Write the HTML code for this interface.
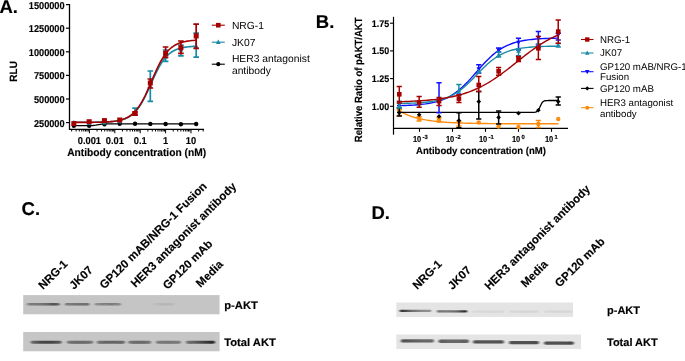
<!DOCTYPE html><html><head><meta charset="utf-8"><style>html,body{margin:0;padding:0;background:#fff;overflow:hidden}svg{display:block;filter:blur(0.35px)}text{font-family:"Liberation Sans",sans-serif;text-rendering:geometricPrecision}text[font-weight=bold]{stroke:#000;stroke-width:0.15px}</style></head><body><svg width="685" height="361" viewBox="0 0 685 361"><defs><linearGradient id="gb0" x1="0" x2="1" y1="0" y2="0"><stop offset="0.000" stop-color="#101010" stop-opacity="0.3"/><stop offset="0.200" stop-color="#101010" stop-opacity="0.42"/><stop offset="0.400" stop-color="#101010" stop-opacity="0.45"/><stop offset="0.600" stop-color="#101010" stop-opacity="0.5"/><stop offset="0.800" stop-color="#101010" stop-opacity="0.65"/><stop offset="1.000" stop-color="#101010" stop-opacity="0.55"/></linearGradient><linearGradient id="gb1" x1="0" x2="1" y1="0" y2="0"><stop offset="0.000" stop-color="#101010" stop-opacity="0.38"/><stop offset="0.333" stop-color="#101010" stop-opacity="0.45"/><stop offset="0.667" stop-color="#101010" stop-opacity="0.48"/><stop offset="1.000" stop-color="#101010" stop-opacity="0.5"/></linearGradient><linearGradient id="gb2" x1="0" x2="1" y1="0" y2="0"><stop offset="0.000" stop-color="#101010" stop-opacity="0.25"/><stop offset="0.333" stop-color="#101010" stop-opacity="0.35"/><stop offset="0.667" stop-color="#101010" stop-opacity="0.38"/><stop offset="1.000" stop-color="#101010" stop-opacity="0.3"/></linearGradient><linearGradient id="gb3" x1="0" x2="1" y1="0" y2="0"><stop offset="0.000" stop-color="#101010" stop-opacity="0.03"/><stop offset="0.500" stop-color="#101010" stop-opacity="0.08"/><stop offset="1.000" stop-color="#101010" stop-opacity="0.06"/></linearGradient><linearGradient id="gb4" x1="0" x2="1" y1="0" y2="0"><stop offset="0.000" stop-color="#101010" stop-opacity="0.5"/><stop offset="0.333" stop-color="#101010" stop-opacity="0.7"/><stop offset="0.667" stop-color="#101010" stop-opacity="0.72"/><stop offset="1.000" stop-color="#101010" stop-opacity="0.6"/></linearGradient><linearGradient id="gb5" x1="0" x2="1" y1="0" y2="0"><stop offset="0.000" stop-color="#101010" stop-opacity="0.45"/><stop offset="0.333" stop-color="#101010" stop-opacity="0.52"/><stop offset="0.667" stop-color="#101010" stop-opacity="0.52"/><stop offset="1.000" stop-color="#101010" stop-opacity="0.45"/></linearGradient><linearGradient id="gb6" x1="0" x2="1" y1="0" y2="0"><stop offset="0.000" stop-color="#101010" stop-opacity="0.45"/><stop offset="0.333" stop-color="#101010" stop-opacity="0.55"/><stop offset="0.667" stop-color="#101010" stop-opacity="0.55"/><stop offset="1.000" stop-color="#101010" stop-opacity="0.5"/></linearGradient><linearGradient id="gb7" x1="0" x2="1" y1="0" y2="0"><stop offset="0.000" stop-color="#101010" stop-opacity="0.45"/><stop offset="0.333" stop-color="#101010" stop-opacity="0.52"/><stop offset="0.667" stop-color="#101010" stop-opacity="0.52"/><stop offset="1.000" stop-color="#101010" stop-opacity="0.45"/></linearGradient><linearGradient id="gb8" x1="0" x2="1" y1="0" y2="0"><stop offset="0.000" stop-color="#101010" stop-opacity="0.35"/><stop offset="0.333" stop-color="#101010" stop-opacity="0.45"/><stop offset="0.667" stop-color="#101010" stop-opacity="0.45"/><stop offset="1.000" stop-color="#101010" stop-opacity="0.4"/></linearGradient><linearGradient id="gb9" x1="0" x2="1" y1="0" y2="0"><stop offset="0.000" stop-color="#101010" stop-opacity="0.45"/><stop offset="0.333" stop-color="#101010" stop-opacity="0.6"/><stop offset="0.667" stop-color="#101010" stop-opacity="0.75"/><stop offset="1.000" stop-color="#101010" stop-opacity="0.9"/></linearGradient><linearGradient id="gb10" x1="0" x2="1" y1="0" y2="0"><stop offset="0.000" stop-color="#101010" stop-opacity="0.9"/><stop offset="0.333" stop-color="#101010" stop-opacity="0.6"/><stop offset="0.667" stop-color="#101010" stop-opacity="0.45"/><stop offset="1.000" stop-color="#101010" stop-opacity="0.4"/></linearGradient><linearGradient id="gb11" x1="0" x2="1" y1="0" y2="0"><stop offset="0.000" stop-color="#101010" stop-opacity="0.55"/><stop offset="0.333" stop-color="#101010" stop-opacity="0.5"/><stop offset="0.667" stop-color="#101010" stop-opacity="0.6"/><stop offset="1.000" stop-color="#101010" stop-opacity="0.95"/></linearGradient><linearGradient id="gb12" x1="0" x2="1" y1="0" y2="0"><stop offset="0.000" stop-color="#101010" stop-opacity="0.04"/><stop offset="0.500" stop-color="#101010" stop-opacity="0.06"/><stop offset="1.000" stop-color="#101010" stop-opacity="0.06"/></linearGradient><linearGradient id="gb13" x1="0" x2="1" y1="0" y2="0"><stop offset="0.000" stop-color="#101010" stop-opacity="0.05"/><stop offset="0.500" stop-color="#101010" stop-opacity="0.07"/><stop offset="1.000" stop-color="#101010" stop-opacity="0.06"/></linearGradient><linearGradient id="gb14" x1="0" x2="1" y1="0" y2="0"><stop offset="0.000" stop-color="#101010" stop-opacity="0.05"/><stop offset="0.500" stop-color="#101010" stop-opacity="0.07"/><stop offset="1.000" stop-color="#101010" stop-opacity="0.05"/></linearGradient><linearGradient id="gb15" x1="0" x2="1" y1="0" y2="0"><stop offset="0.000" stop-color="#101010" stop-opacity="0.7"/><stop offset="0.333" stop-color="#101010" stop-opacity="0.65"/><stop offset="0.667" stop-color="#101010" stop-opacity="0.6"/><stop offset="1.000" stop-color="#101010" stop-opacity="0.6"/></linearGradient><linearGradient id="gb16" x1="0" x2="1" y1="0" y2="0"><stop offset="0.000" stop-color="#101010" stop-opacity="0.65"/><stop offset="0.333" stop-color="#101010" stop-opacity="0.6"/><stop offset="0.667" stop-color="#101010" stop-opacity="0.6"/><stop offset="1.000" stop-color="#101010" stop-opacity="0.65"/></linearGradient><linearGradient id="gb17" x1="0" x2="1" y1="0" y2="0"><stop offset="0.000" stop-color="#101010" stop-opacity="0.7"/><stop offset="0.333" stop-color="#101010" stop-opacity="0.68"/><stop offset="0.667" stop-color="#101010" stop-opacity="0.68"/><stop offset="1.000" stop-color="#101010" stop-opacity="0.7"/></linearGradient><linearGradient id="gb18" x1="0" x2="1" y1="0" y2="0"><stop offset="0.000" stop-color="#101010" stop-opacity="0.7"/><stop offset="0.333" stop-color="#101010" stop-opacity="0.7"/><stop offset="0.667" stop-color="#101010" stop-opacity="0.7"/><stop offset="1.000" stop-color="#101010" stop-opacity="0.72"/></linearGradient><linearGradient id="gb19" x1="0" x2="1" y1="0" y2="0"><stop offset="0.000" stop-color="#101010" stop-opacity="0.7"/><stop offset="0.333" stop-color="#101010" stop-opacity="0.7"/><stop offset="0.667" stop-color="#101010" stop-opacity="0.7"/><stop offset="1.000" stop-color="#101010" stop-opacity="0.75"/></linearGradient><filter id="bl" x="-10%" y="-100%" width="120%" height="300%"><feGaussianBlur stdDeviation="0.9 0.7"/></filter><filter id="bs" x="-5%" y="-20%" width="110%" height="140%"><feGaussianBlur stdDeviation="0.4"/></filter></defs><rect width="685" height="361" fill="#fff"/><g>
<path d="M69.5,4V129.3H204" stroke="#000" stroke-width="1.3" fill="none"/>
<path d="M66,4.60H69.5" stroke="#000" stroke-width="1.2"/>
<text transform="translate(64.60,8.50) scale(0.92,1)" font-size="10" font-weight="bold" text-anchor="end" >1500000</text>
<path d="M66,28.20H69.5" stroke="#000" stroke-width="1.2"/>
<text transform="translate(64.60,32.10) scale(0.92,1)" font-size="10" font-weight="bold" text-anchor="end" >1250000</text>
<path d="M66,51.80H69.5" stroke="#000" stroke-width="1.2"/>
<text transform="translate(64.60,55.70) scale(0.92,1)" font-size="10" font-weight="bold" text-anchor="end" >1000000</text>
<path d="M66,75.40H69.5" stroke="#000" stroke-width="1.2"/>
<text transform="translate(64.60,79.30) scale(0.92,1)" font-size="10" font-weight="bold" text-anchor="end" >750000</text>
<path d="M66,99.00H69.5" stroke="#000" stroke-width="1.2"/>
<text transform="translate(64.60,102.90) scale(0.92,1)" font-size="10" font-weight="bold" text-anchor="end" >500000</text>
<path d="M66,122.60H69.5" stroke="#000" stroke-width="1.2"/>
<text transform="translate(64.60,126.50) scale(0.92,1)" font-size="10" font-weight="bold" text-anchor="end" >250000</text>
<path d="M71.65,129.3V131.50" stroke="#000" stroke-width="1"/>
<path d="M76.12,129.3V131.50" stroke="#000" stroke-width="1"/>
<path d="M79.29,129.3V131.50" stroke="#000" stroke-width="1"/>
<path d="M81.75,129.3V131.50" stroke="#000" stroke-width="1"/>
<path d="M83.77,129.3V131.50" stroke="#000" stroke-width="1"/>
<path d="M85.47,129.3V131.50" stroke="#000" stroke-width="1"/>
<path d="M86.94,129.3V131.50" stroke="#000" stroke-width="1"/>
<path d="M88.24,129.3V131.50" stroke="#000" stroke-width="1"/>
<path d="M89.40,129.3V133.30" stroke="#000" stroke-width="1"/>
<path d="M97.05,129.3V131.50" stroke="#000" stroke-width="1"/>
<path d="M101.52,129.3V131.50" stroke="#000" stroke-width="1"/>
<path d="M104.69,129.3V131.50" stroke="#000" stroke-width="1"/>
<path d="M107.15,129.3V131.50" stroke="#000" stroke-width="1"/>
<path d="M109.17,129.3V131.50" stroke="#000" stroke-width="1"/>
<path d="M110.87,129.3V131.50" stroke="#000" stroke-width="1"/>
<path d="M112.34,129.3V131.50" stroke="#000" stroke-width="1"/>
<path d="M113.64,129.3V131.50" stroke="#000" stroke-width="1"/>
<path d="M114.80,129.3V133.30" stroke="#000" stroke-width="1"/>
<path d="M122.45,129.3V131.50" stroke="#000" stroke-width="1"/>
<path d="M126.92,129.3V131.50" stroke="#000" stroke-width="1"/>
<path d="M130.09,129.3V131.50" stroke="#000" stroke-width="1"/>
<path d="M132.55,129.3V131.50" stroke="#000" stroke-width="1"/>
<path d="M134.57,129.3V131.50" stroke="#000" stroke-width="1"/>
<path d="M136.27,129.3V131.50" stroke="#000" stroke-width="1"/>
<path d="M137.74,129.3V131.50" stroke="#000" stroke-width="1"/>
<path d="M139.04,129.3V131.50" stroke="#000" stroke-width="1"/>
<path d="M140.20,129.3V133.30" stroke="#000" stroke-width="1"/>
<path d="M147.85,129.3V131.50" stroke="#000" stroke-width="1"/>
<path d="M152.32,129.3V131.50" stroke="#000" stroke-width="1"/>
<path d="M155.49,129.3V131.50" stroke="#000" stroke-width="1"/>
<path d="M157.95,129.3V131.50" stroke="#000" stroke-width="1"/>
<path d="M159.97,129.3V131.50" stroke="#000" stroke-width="1"/>
<path d="M161.67,129.3V131.50" stroke="#000" stroke-width="1"/>
<path d="M163.14,129.3V131.50" stroke="#000" stroke-width="1"/>
<path d="M164.44,129.3V131.50" stroke="#000" stroke-width="1"/>
<path d="M165.60,129.3V133.30" stroke="#000" stroke-width="1"/>
<path d="M173.25,129.3V131.50" stroke="#000" stroke-width="1"/>
<path d="M177.72,129.3V131.50" stroke="#000" stroke-width="1"/>
<path d="M180.89,129.3V131.50" stroke="#000" stroke-width="1"/>
<path d="M183.35,129.3V131.50" stroke="#000" stroke-width="1"/>
<path d="M185.37,129.3V131.50" stroke="#000" stroke-width="1"/>
<path d="M187.07,129.3V131.50" stroke="#000" stroke-width="1"/>
<path d="M188.54,129.3V131.50" stroke="#000" stroke-width="1"/>
<path d="M189.84,129.3V131.50" stroke="#000" stroke-width="1"/>
<path d="M191.00,129.3V133.30" stroke="#000" stroke-width="1"/>
<path d="M198.65,129.3V131.50" stroke="#000" stroke-width="1"/>
<path d="M203.12,129.3V131.50" stroke="#000" stroke-width="1"/>
<text transform="translate(89.40,143.60) scale(0.93,1)" font-size="10" font-weight="bold" text-anchor="middle" >0.001</text>
<text transform="translate(114.80,143.60) scale(0.93,1)" font-size="10" font-weight="bold" text-anchor="middle" >0.01</text>
<text transform="translate(140.20,143.60) scale(0.93,1)" font-size="10" font-weight="bold" text-anchor="middle" >0.1</text>
<text transform="translate(165.60,143.60) scale(0.93,1)" font-size="10" font-weight="bold" text-anchor="middle" >1</text>
<text transform="translate(191.00,143.60) scale(0.93,1)" font-size="10" font-weight="bold" text-anchor="middle" >10</text>
<text transform="translate(136.60,156.10) scale(0.945,1)" font-size="10.8" font-weight="bold" text-anchor="middle" >Antibody concentration (nM)</text>
<text transform="translate(17.40,71.40) rotate(-90) scale(0.95,1)" font-size="10.5" font-weight="bold" text-anchor="middle" >RLU</text>
<text transform="translate(-0.60,12.60)" font-size="18.5" font-weight="bold" >A.</text>
<path d="M74.00,125.70 L75.55,125.70 L77.10,125.70 L78.65,125.70 L80.20,125.70 L81.75,125.70 L83.30,125.69 L84.85,125.69 L86.41,125.68 L87.96,125.66 L89.51,125.63 L91.06,125.57 L92.61,125.48 L94.16,125.33 L95.71,125.11 L97.26,124.84 L98.81,124.57 L100.36,124.33 L101.91,124.16 L103.46,124.05 L105.01,123.98 L106.56,123.95 L108.11,123.93 L109.66,123.91 L111.22,123.91 L112.77,123.90 L114.32,123.90 L115.87,123.90 L117.42,123.90 L118.97,123.90 L120.52,123.90 L122.07,123.90 L123.62,123.90 L125.17,123.90 L126.72,123.90 L128.27,123.90 L129.82,123.90 L131.37,123.90 L132.92,123.90 L134.47,123.90 L136.03,123.90 L137.58,123.90 L139.13,123.90 L140.68,123.90 L142.23,123.90 L143.78,123.90 L145.33,123.90 L146.88,123.90 L148.43,123.90 L149.98,123.90 L151.53,123.90 L153.08,123.90 L154.63,123.90 L156.18,123.90 L157.73,123.90 L159.28,123.90 L160.84,123.90 L162.39,123.90 L163.94,123.90 L165.49,123.90 L167.04,123.90 L168.59,123.90 L170.14,123.90 L171.69,123.90 L173.24,123.90 L174.79,123.90 L176.34,123.90 L177.89,123.90 L179.44,123.90 L180.99,123.90 L182.54,123.90 L184.09,123.90 L185.65,123.90 L187.20,123.90 L188.75,123.90 L190.30,123.90 L191.85,123.90 L193.40,123.90 L194.95,123.90 L196.50,123.90" stroke="#000" stroke-width="1.3" fill="none"/>
<circle cx="73.85" cy="125.70" r="2.2" fill="#000"/>
<circle cx="89.14" cy="125.70" r="2.2" fill="#000"/>
<circle cx="104.43" cy="124.30" r="2.2" fill="#000"/>
<circle cx="119.72" cy="123.80" r="2.2" fill="#000"/>
<circle cx="135.02" cy="123.80" r="2.2" fill="#000"/>
<circle cx="150.31" cy="123.90" r="2.2" fill="#000"/>
<circle cx="165.60" cy="124.00" r="2.2" fill="#000"/>
<circle cx="180.89" cy="124.20" r="2.2" fill="#000"/>
<circle cx="196.18" cy="124.00" r="2.2" fill="#000"/>
<path d="M74.00,122.29 L75.55,122.29 L77.10,122.29 L78.65,122.28 L80.20,122.28 L81.75,122.28 L83.30,122.27 L84.85,122.27 L86.41,122.26 L87.96,122.25 L89.51,122.24 L91.06,122.23 L92.61,122.22 L94.16,122.20 L95.71,122.18 L97.26,122.16 L98.81,122.13 L100.36,122.10 L101.91,122.06 L103.46,122.01 L105.01,121.96 L106.56,121.89 L108.11,121.81 L109.66,121.71 L111.22,121.59 L112.77,121.45 L114.32,121.28 L115.87,121.08 L117.42,120.84 L118.97,120.56 L120.52,120.22 L122.07,119.81 L123.62,119.33 L125.17,118.77 L126.72,118.10 L128.27,117.32 L129.82,116.39 L131.37,115.32 L132.92,114.07 L134.47,112.64 L136.03,110.99 L137.58,109.12 L139.13,107.01 L140.68,104.65 L142.23,102.06 L143.78,99.23 L145.33,96.19 L146.88,92.97 L148.43,89.61 L149.98,86.16 L151.53,82.68 L153.08,79.22 L154.63,75.84 L156.18,72.60 L157.73,69.52 L159.28,66.65 L160.84,64.01 L162.39,61.61 L163.94,59.46 L165.49,57.54 L167.04,55.85 L168.59,54.38 L170.14,53.10 L171.69,51.99 L173.24,51.04 L174.79,50.24 L176.34,49.55 L177.89,48.96 L179.44,48.47 L180.99,48.05 L182.54,47.70 L184.09,47.41 L185.65,47.16 L187.20,46.95 L188.75,46.78 L190.30,46.63 L191.85,46.51 L193.40,46.41 L194.95,46.33 L196.50,46.26" stroke="#1a8aa5" stroke-width="1.6" fill="none"/>
<path d="M135.02,108.10V115.00M132.22,108.10H137.82M132.22,115.00H137.82" stroke="#1a8aa5" stroke-width="1.7" fill="none"/>
<path d="M150.31,71.00V101.30M147.51,71.00H153.11M147.51,101.30H153.11" stroke="#1a8aa5" stroke-width="1.7" fill="none"/>
<path d="M165.60,50.00V61.30M162.80,50.00H168.40M162.80,61.30H168.40" stroke="#1a8aa5" stroke-width="1.7" fill="none"/>
<path d="M180.89,45.00V55.80M178.09,45.00H183.69M178.09,55.80H183.69" stroke="#1a8aa5" stroke-width="1.7" fill="none"/>
<path d="M196.18,33.20V57.10M193.38,33.20H198.98M193.38,57.10H198.98" stroke="#1a8aa5" stroke-width="1.7" fill="none"/>
<path d="M73.85,120.01L76.25,124.33L71.45,124.33Z" fill="#1a8aa5"/>
<path d="M89.14,120.71L91.54,125.03L86.74,125.03Z" fill="#1a8aa5"/>
<path d="M104.43,120.21L106.83,124.53L102.03,124.53Z" fill="#1a8aa5"/>
<path d="M119.72,119.01L122.12,123.33L117.32,123.33Z" fill="#1a8aa5"/>
<path d="M135.02,109.41L137.42,113.73L132.62,113.73Z" fill="#1a8aa5"/>
<path d="M150.31,83.41L152.71,87.73L147.91,87.73Z" fill="#1a8aa5"/>
<path d="M165.60,54.11L168.00,58.43L163.20,58.43Z" fill="#1a8aa5"/>
<path d="M180.89,47.21L183.29,51.53L178.49,51.53Z" fill="#1a8aa5"/>
<path d="M196.18,43.71L198.58,48.03L193.78,48.03Z" fill="#1a8aa5"/>
<path d="M74.00,122.42 L75.55,122.42 L77.10,122.41 L78.65,122.41 L80.20,122.41 L81.75,122.40 L83.30,122.39 L84.85,122.39 L86.41,122.38 L87.96,122.37 L89.51,122.36 L91.06,122.34 L92.61,122.33 L94.16,122.31 L95.71,122.28 L97.26,122.26 L98.81,122.22 L100.36,122.18 L101.91,122.14 L103.46,122.08 L105.01,122.01 L106.56,121.93 L108.11,121.84 L109.66,121.73 L111.22,121.59 L112.77,121.43 L114.32,121.24 L115.87,121.02 L117.42,120.75 L118.97,120.44 L120.52,120.07 L122.07,119.63 L123.62,119.11 L125.17,118.50 L126.72,117.79 L128.27,116.96 L129.82,115.99 L131.37,114.86 L132.92,113.57 L134.47,112.08 L136.03,110.38 L137.58,108.45 L139.13,106.29 L140.68,103.88 L142.23,101.23 L143.78,98.35 L145.33,95.24 L146.88,91.94 L148.43,88.49 L149.98,84.92 L151.53,81.30 L153.08,77.67 L154.63,74.10 L156.18,70.63 L157.73,67.31 L159.28,64.17 L160.84,61.26 L162.39,58.58 L163.94,56.14 L165.49,53.95 L167.04,51.99 L168.59,50.27 L170.14,48.75 L171.69,47.43 L173.24,46.29 L174.79,45.30 L176.34,44.45 L177.89,43.72 L179.44,43.10 L180.99,42.58 L182.54,42.13 L184.09,41.75 L185.65,41.43 L187.20,41.15 L188.75,40.93 L190.30,40.73 L191.85,40.57 L193.40,40.43 L194.95,40.32 L196.50,40.22" stroke="#a50000" stroke-width="1.6" fill="none"/>
<path d="M135.02,112.00V115.00M132.22,112.00H137.82M132.22,115.00H137.82" stroke="#a50000" stroke-width="1.7" fill="none"/>
<path d="M150.31,79.00V88.00M147.51,79.00H153.11M147.51,88.00H153.11" stroke="#a50000" stroke-width="1.7" fill="none"/>
<path d="M165.60,47.00V57.40M162.80,47.00H168.40M162.80,57.40H168.40" stroke="#a50000" stroke-width="1.7" fill="none"/>
<path d="M180.89,41.00V53.30M178.09,41.00H183.69M178.09,53.30H183.69" stroke="#a50000" stroke-width="1.7" fill="none"/>
<path d="M196.18,24.20V48.40M193.38,24.20H198.98M193.38,48.40H198.98" stroke="#a50000" stroke-width="1.7" fill="none"/>
<rect x="71.35" y="121.10" width="5" height="5" fill="#a50000"/>
<rect x="86.64" y="119.20" width="5" height="5" fill="#a50000"/>
<rect x="101.93" y="118.10" width="5" height="5" fill="#a50000"/>
<rect x="117.22" y="117.50" width="5" height="5" fill="#a50000"/>
<rect x="132.52" y="111.00" width="5" height="5" fill="#a50000"/>
<rect x="147.81" y="80.50" width="5" height="5" fill="#a50000"/>
<rect x="163.10" y="50.80" width="5" height="5" fill="#a50000"/>
<rect x="178.39" y="45.20" width="5" height="5" fill="#a50000"/>
<rect x="193.68" y="33.50" width="5" height="5" fill="#a50000"/>
<path d="M211.80,25.20H224.80" stroke="#a50000" stroke-width="1.1"/><rect x="216.00" y="22.90" width="4.6" height="4.6" fill="#a50000"/><text transform="translate(231.90,28.80)" font-size="10.3" >NRG-1</text>
<path d="M211.80,42.20H224.80" stroke="#1a8aa5" stroke-width="1.1"/><path d="M218.30,39.61L220.70,43.93L215.90,43.93Z" fill="#1a8aa5"/><text transform="translate(231.90,45.80)" font-size="10.3" >JK07</text>
<path d="M211.80,64.20H224.80" stroke="#000" stroke-width="1.1"/><circle cx="218.30" cy="64.20" r="2.1" fill="#000"/><text transform="translate(231.90,62.40)" font-size="10.3" >HER3 antagonist</text><text transform="translate(231.90,73.60)" font-size="10.3" >antibody</text>
</g>
<g>
<path d="M393.5,16.8V134.7" stroke="#000" stroke-width="1.2" fill="none"/>
<path d="M393.5,128.4H568" stroke="#000" stroke-width="1.2" fill="none"/>
<path d="M390,23.20H393.5" stroke="#000" stroke-width="1.1"/>
<text transform="translate(389.20,26.60) scale(0.93,1)" font-size="9.6" font-weight="bold" text-anchor="end" >1.75</text>
<path d="M390,50.90H393.5" stroke="#000" stroke-width="1.1"/>
<text transform="translate(389.20,54.30) scale(0.93,1)" font-size="9.6" font-weight="bold" text-anchor="end" >1.50</text>
<path d="M390,78.60H393.5" stroke="#000" stroke-width="1.1"/>
<text transform="translate(389.20,82.00) scale(0.93,1)" font-size="9.6" font-weight="bold" text-anchor="end" >1.25</text>
<path d="M390,106.30H393.5" stroke="#000" stroke-width="1.1"/>
<text transform="translate(389.20,109.70) scale(0.93,1)" font-size="9.6" font-weight="bold" text-anchor="end" >1.00</text>
<path d="M419.50,128.4V131.8" stroke="#000" stroke-width="1.1"/>
<text transform="translate(417.10,141.80) scale(0.87,1)" font-size="8.6" font-weight="bold" text-anchor="middle" >10</text>
<text transform="translate(422.50,139.30)" font-size="5.9" font-weight="bold" >-3</text>
<path d="M452.50,128.4V131.8" stroke="#000" stroke-width="1.1"/>
<text transform="translate(450.10,141.80) scale(0.87,1)" font-size="8.6" font-weight="bold" text-anchor="middle" >10</text>
<text transform="translate(455.50,139.30)" font-size="5.9" font-weight="bold" >-2</text>
<path d="M485.50,128.4V131.8" stroke="#000" stroke-width="1.1"/>
<text transform="translate(483.10,141.80) scale(0.87,1)" font-size="8.6" font-weight="bold" text-anchor="middle" >10</text>
<text transform="translate(488.50,139.30)" font-size="5.9" font-weight="bold" >-1</text>
<path d="M518.50,128.4V131.8" stroke="#000" stroke-width="1.1"/>
<text transform="translate(516.10,141.80) scale(0.87,1)" font-size="8.6" font-weight="bold" text-anchor="middle" >10</text>
<text transform="translate(521.50,139.30)" font-size="5.9" font-weight="bold" >0</text>
<path d="M551.50,128.4V131.8" stroke="#000" stroke-width="1.1"/>
<text transform="translate(549.10,141.80) scale(0.87,1)" font-size="8.6" font-weight="bold" text-anchor="middle" >10</text>
<text transform="translate(554.50,139.30)" font-size="5.9" font-weight="bold" >1</text>
<text transform="translate(481.00,154.30) scale(0.955,1)" font-size="10.0" font-weight="bold" text-anchor="middle" >Antibody concentration (nM)</text>
<text transform="translate(361.90,79.80) rotate(-90) scale(0.915,1)" font-size="10.4" font-weight="bold" text-anchor="middle" >Relative Ratio of pAKT/AKT</text>
<text transform="translate(315.80,27.60)" font-size="18.5" font-weight="bold" >B.</text>
<path d="M397.00,109.50 L398.36,110.36 L399.71,111.16 L401.07,111.92 L402.43,112.63 L403.79,113.30 L405.14,113.92 L406.50,114.51 L407.86,115.07 L409.21,115.59 L410.57,116.08 L411.93,116.55 L413.29,116.98 L414.64,117.39 L416.00,117.77 L417.36,118.13 L418.71,118.47 L420.07,118.79 L421.43,119.09 L422.79,119.37 L424.14,119.64 L425.50,119.89 L426.86,120.12 L428.21,120.34 L429.57,120.55 L430.93,120.74 L432.29,120.92 L433.64,121.10 L435.00,121.26 L436.36,121.41 L437.71,121.55 L439.07,121.69 L440.43,121.81 L441.79,121.93 L443.14,122.04 L444.50,122.15 L445.86,122.25 L447.21,122.34 L448.57,122.43 L449.93,122.51 L451.29,122.59 L452.64,122.66 L454.00,122.73 L455.36,122.79 L456.71,122.85 L458.07,122.91 L459.43,122.96 L460.79,123.01 L462.14,123.06 L463.50,123.10 L464.86,123.15 L466.21,123.18 L467.57,123.22 L468.93,123.26 L470.29,123.29 L471.64,123.32 L473.00,123.35 L474.36,123.38 L475.71,123.40 L477.07,123.42 L478.43,123.45 L479.79,123.47 L481.14,123.49 L482.50,123.51 L483.86,123.52 L485.21,123.54 L486.57,123.56 L487.93,123.57 L489.29,123.58 L490.64,123.60 L492.00,123.61 L493.36,123.62 L494.71,123.63 L496.07,123.64 L497.43,123.65 L498.79,123.66 L500.14,123.67 L501.50,123.68 L502.86,123.68 L504.21,123.69 L505.57,123.70 L506.93,123.70 L508.29,123.71 L509.64,123.71 L511.00,123.72 L512.36,123.72 L513.71,123.73 L515.07,123.73 L516.43,123.74 L517.79,123.74 L519.14,123.74 L520.50,123.75 L521.86,123.75 L523.21,123.75 L524.57,123.76 L525.93,123.76 L527.29,123.76 L528.64,123.76 L530.00,123.77 L531.36,123.77 L532.71,123.77 L534.07,123.77 L535.43,123.77 L536.79,123.78 L538.14,123.78 L539.50,123.78 L540.86,123.78 L542.21,123.78 L543.57,123.78 L544.93,123.78 L546.29,123.78 L547.64,123.78 L549.00,123.79 L550.36,123.79 L551.71,123.79 L553.07,123.79 L554.43,123.79 L555.79,123.79 L557.14,123.79 L558.50,123.79" stroke="#ff8c10" stroke-width="1.4" fill="none"/>
<path d="M399.29,109.30V115.50M396.69,109.30H401.89M396.69,115.50H401.89" stroke="#ff8c10" stroke-width="1.5" fill="none"/>
<path d="M419.16,116.70V121.10M416.56,116.70H421.76M416.56,121.10H421.76" stroke="#ff8c10" stroke-width="1.5" fill="none"/>
<path d="M439.03,117.50V122.00M436.43,117.50H441.63M436.43,122.00H441.63" stroke="#ff8c10" stroke-width="1.5" fill="none"/>
<path d="M458.90,121.00V126.00M456.30,121.00H461.50M456.30,126.00H461.50" stroke="#ff8c10" stroke-width="1.5" fill="none"/>
<path d="M538.37,120.40V127.40M535.77,120.40H540.97M535.77,127.40H540.97" stroke="#ff8c10" stroke-width="1.5" fill="none"/>
<circle cx="399.29" cy="110.80" r="2.2" fill="#ff8c10"/>
<circle cx="419.16" cy="118.70" r="2.2" fill="#ff8c10"/>
<circle cx="439.03" cy="119.70" r="2.2" fill="#ff8c10"/>
<circle cx="458.90" cy="122.60" r="2.2" fill="#ff8c10"/>
<circle cx="478.76" cy="122.40" r="2.2" fill="#ff8c10"/>
<circle cx="498.63" cy="126.50" r="2.2" fill="#ff8c10"/>
<circle cx="518.50" cy="127.00" r="2.2" fill="#ff8c10"/>
<circle cx="538.37" cy="124.00" r="2.2" fill="#ff8c10"/>
<circle cx="558.24" cy="119.00" r="2.2" fill="#ff8c10"/>
<path d="M397.00,112.40 L398.36,112.40 L399.71,112.40 L401.07,112.40 L402.43,112.40 L403.79,112.40 L405.14,112.40 L406.50,112.40 L407.86,112.40 L409.21,112.40 L410.57,112.40 L411.93,112.40 L413.29,112.40 L414.64,112.40 L416.00,112.40 L417.36,112.40 L418.71,112.40 L420.07,112.40 L421.43,112.40 L422.79,112.40 L424.14,112.40 L425.50,112.40 L426.86,112.40 L428.21,112.40 L429.57,112.40 L430.93,112.40 L432.29,112.40 L433.64,112.40 L435.00,112.40 L436.36,112.40 L437.71,112.40 L439.07,112.40 L440.43,112.40 L441.79,112.40 L443.14,112.40 L444.50,112.40 L445.86,112.40 L447.21,112.40 L448.57,112.40 L449.93,112.40 L451.29,112.40 L452.64,112.40 L454.00,112.40 L455.36,112.40 L456.71,112.40 L458.07,112.40 L459.43,112.40 L460.79,112.40 L462.14,112.40 L463.50,112.40 L464.86,112.40 L466.21,112.40 L467.57,112.40 L468.93,112.40 L470.29,112.40 L471.64,112.40 L473.00,112.40 L474.36,112.40 L475.71,112.40 L477.07,112.40 L478.43,112.40 L479.79,112.40 L481.14,112.40 L482.50,112.40 L483.86,112.40 L485.21,112.40 L486.57,112.40 L487.93,112.40 L489.29,112.40 L490.64,112.40 L492.00,112.40 L493.36,112.40 L494.71,112.40 L496.07,112.40 L497.43,112.40 L498.79,112.40 L500.14,112.40 L501.50,112.40 L502.86,112.40 L504.21,112.40 L505.57,112.40 L506.93,112.40 L508.29,112.40 L509.64,112.40 L511.00,112.40 L512.36,112.40 L513.71,112.40 L515.07,112.40 L516.43,112.40 L517.79,112.40 L519.14,112.40 L520.50,112.40 L521.86,112.40 L523.21,112.40 L524.57,112.40 L525.93,112.40 L527.29,112.40 L528.64,112.40 L530.00,112.40 L531.36,112.39 L532.71,112.37 L534.07,112.31 L535.43,112.14 L536.79,111.67 L538.14,110.48 L539.50,108.07 L540.86,104.92 L542.21,102.48 L543.57,101.25 L544.93,100.76 L546.29,100.59 L547.64,100.53 L549.00,100.51 L550.36,100.50 L551.71,100.50 L553.07,100.50 L554.43,100.50 L555.79,100.50 L557.14,100.50 L558.50,100.50" stroke="#000" stroke-width="1.3" fill="none"/>
<path d="M399.29,108.00V116.00M396.69,108.00H401.89M396.69,116.00H401.89" stroke="#000" stroke-width="1.5" fill="none"/>
<path d="M458.90,112.70V127.80M456.30,112.70H461.50M456.30,127.80H461.50" stroke="#000" stroke-width="1.5" fill="none"/>
<path d="M478.76,91.60V119.00M476.16,91.60H481.36M476.16,119.00H481.36" stroke="#000" stroke-width="1.5" fill="none"/>
<path d="M498.63,111.00V124.00M496.03,111.00H501.23M496.03,124.00H501.23" stroke="#000" stroke-width="1.5" fill="none"/>
<path d="M558.24,97.00V105.00M555.64,97.00H560.84M555.64,105.00H560.84" stroke="#000" stroke-width="1.5" fill="none"/>
<path d="M399.29,110.40L401.59,112.70L399.29,115.00L396.99,112.70Z" fill="#000"/>
<path d="M419.16,112.40L421.46,114.70L419.16,117.00L416.86,114.70Z" fill="#000"/>
<path d="M439.03,114.10L441.33,116.40L439.03,118.70L436.73,116.40Z" fill="#000"/>
<path d="M458.90,118.30L461.20,120.60L458.90,122.90L456.60,120.60Z" fill="#000"/>
<path d="M478.76,99.30L481.06,101.60L478.76,103.90L476.46,101.60Z" fill="#000"/>
<path d="M498.63,115.10L500.93,117.40L498.63,119.70L496.33,117.40Z" fill="#000"/>
<path d="M518.50,110.90L520.80,113.20L518.50,115.50L516.20,113.20Z" fill="#000"/>
<path d="M538.37,107.90L540.67,110.20L538.37,112.50L536.07,110.20Z" fill="#000"/>
<path d="M558.24,99.30L560.54,101.60L558.24,103.90L555.94,101.60Z" fill="#000"/>
<path d="M397.00,105.72 L399.04,105.67 L401.09,105.61 L403.13,105.55 L405.18,105.48 L407.22,105.40 L409.27,105.31 L411.31,105.20 L413.35,105.08 L415.40,104.94 L417.44,104.79 L419.49,104.61 L421.53,104.40 L423.58,104.16 L425.62,103.90 L427.66,103.59 L429.71,103.25 L431.75,102.85 L433.80,102.41 L435.84,101.90 L437.89,101.33 L439.93,100.69 L441.97,99.98 L444.02,99.17 L446.06,98.27 L448.11,97.27 L450.15,96.17 L452.20,94.94 L454.24,93.60 L456.28,92.14 L458.33,90.55 L460.37,88.84 L462.42,87.01 L464.46,85.07 L466.51,83.01 L468.55,80.87 L470.59,78.64 L472.64,76.36 L474.68,74.03 L476.73,71.68 L478.77,69.34 L480.82,67.02 L482.86,64.74 L484.91,62.54 L486.95,60.41 L488.99,58.38 L491.04,56.46 L493.08,54.65 L495.13,52.97 L497.17,51.41 L499.22,49.97 L501.26,48.66 L503.30,47.47 L505.35,46.38 L507.39,45.41 L509.44,44.53 L511.48,43.74 L513.53,43.04 L515.57,42.42 L517.61,41.86 L519.66,41.37 L521.70,40.94 L523.75,40.56 L525.79,40.22 L527.84,39.93 L529.88,39.67 L531.92,39.44 L533.97,39.24 L536.01,39.06 L538.06,38.91 L540.10,38.77 L542.15,38.66 L544.19,38.55 L546.23,38.46 L548.28,38.39 L550.32,38.32 L552.37,38.26 L554.41,38.21 L556.46,38.16 L558.50,38.12" stroke="#1010ff" stroke-width="1.4" fill="none"/>
<path d="M439.03,82.70V112.70M436.43,82.70H441.63M436.43,112.70H441.63" stroke="#1010ff" stroke-width="1.5" fill="none"/>
<path d="M478.76,64.70V73.00M476.16,64.70H481.36M476.16,73.00H481.36" stroke="#1010ff" stroke-width="1.5" fill="none"/>
<path d="M498.63,48.00V52.00M496.03,48.00H501.23M496.03,52.00H501.23" stroke="#1010ff" stroke-width="1.5" fill="none"/>
<path d="M518.50,38.30V50.00M515.90,38.30H521.10M515.90,50.00H521.10" stroke="#1010ff" stroke-width="1.5" fill="none"/>
<path d="M538.37,31.60V45.00M535.77,31.60H540.97M535.77,45.00H540.97" stroke="#1010ff" stroke-width="1.5" fill="none"/>
<path d="M558.24,33.30V40.00M555.64,33.30H560.84M555.64,40.00H560.84" stroke="#1010ff" stroke-width="1.5" fill="none"/>
<path d="M399.29,106.98L401.59,102.84L396.99,102.84Z" fill="#1010ff"/>
<path d="M419.16,106.48L421.46,102.34L416.86,102.34Z" fill="#1010ff"/>
<path d="M439.03,102.48L441.33,98.34L436.73,98.34Z" fill="#1010ff"/>
<path d="M458.90,97.48L461.20,93.34L456.60,93.34Z" fill="#1010ff"/>
<path d="M478.76,71.48L481.06,67.34L476.46,67.34Z" fill="#1010ff"/>
<path d="M498.63,52.48L500.93,48.34L496.33,48.34Z" fill="#1010ff"/>
<path d="M518.50,44.88L520.80,40.74L516.20,40.74Z" fill="#1010ff"/>
<path d="M538.37,39.88L540.67,35.74L536.07,35.74Z" fill="#1010ff"/>
<path d="M558.24,37.48L560.54,33.34L555.94,33.34Z" fill="#1010ff"/>
<path d="M397.00,103.49 L399.04,103.46 L401.09,103.42 L403.13,103.39 L405.18,103.34 L407.22,103.29 L409.27,103.23 L411.31,103.16 L413.35,103.08 L415.40,102.99 L417.44,102.88 L419.49,102.76 L421.53,102.62 L423.58,102.45 L425.62,102.26 L427.66,102.05 L429.71,101.80 L431.75,101.51 L433.80,101.18 L435.84,100.80 L437.89,100.37 L439.93,99.88 L441.97,99.32 L444.02,98.69 L446.06,97.97 L448.11,97.17 L450.15,96.27 L452.20,95.26 L454.24,94.14 L456.28,92.90 L458.33,91.55 L460.37,90.07 L462.42,88.47 L464.46,86.76 L466.51,84.94 L468.55,83.02 L470.59,81.03 L472.64,78.96 L474.68,76.85 L476.73,74.72 L478.77,72.59 L480.82,70.49 L482.86,68.43 L484.91,66.44 L486.95,64.53 L488.99,62.72 L491.04,61.02 L493.08,59.44 L495.13,57.97 L497.17,56.63 L499.22,55.40 L501.26,54.30 L503.30,53.30 L505.35,52.41 L507.39,51.61 L509.44,50.90 L511.48,50.28 L513.53,49.73 L515.57,49.24 L517.61,48.82 L519.66,48.45 L521.70,48.12 L523.75,47.84 L525.79,47.59 L527.84,47.38 L529.88,47.19 L531.92,47.03 L533.97,46.89 L536.01,46.77 L538.06,46.66 L540.10,46.57 L542.15,46.49 L544.19,46.42 L546.23,46.36 L548.28,46.31 L550.32,46.27 L552.37,46.23 L554.41,46.20 L556.46,46.17 L558.50,46.15" stroke="#1a8aa5" stroke-width="1.4" fill="none"/>
<path d="M399.29,101.20V108.00M396.69,101.20H401.89M396.69,108.00H401.89" stroke="#1a8aa5" stroke-width="1.5" fill="none"/>
<path d="M458.90,84.60V95.00M456.30,84.60H461.50M456.30,95.00H461.50" stroke="#1a8aa5" stroke-width="1.5" fill="none"/>
<path d="M498.63,52.00V57.00M496.03,52.00H501.23M496.03,57.00H501.23" stroke="#1a8aa5" stroke-width="1.5" fill="none"/>
<path d="M518.50,49.00V55.70M515.90,49.00H521.10M515.90,55.70H521.10" stroke="#1a8aa5" stroke-width="1.5" fill="none"/>
<path d="M538.37,44.00V47.50M535.77,44.00H540.97M535.77,47.50H540.97" stroke="#1a8aa5" stroke-width="1.5" fill="none"/>
<path d="M558.24,43.50V47.00M555.64,43.50H560.84M555.64,47.00H560.84" stroke="#1a8aa5" stroke-width="1.5" fill="none"/>
<path d="M399.29,103.72L401.59,107.86L396.99,107.86Z" fill="#1a8aa5"/>
<path d="M419.16,101.52L421.46,105.66L416.86,105.66Z" fill="#1a8aa5"/>
<path d="M439.03,98.52L441.33,102.66L436.73,102.66Z" fill="#1a8aa5"/>
<path d="M458.90,88.32L461.20,92.46L456.60,92.46Z" fill="#1a8aa5"/>
<path d="M478.76,69.12L481.06,73.26L476.46,73.26Z" fill="#1a8aa5"/>
<path d="M498.63,52.52L500.93,56.66L496.33,56.66Z" fill="#1a8aa5"/>
<path d="M518.50,48.52L520.80,52.66L516.20,52.66Z" fill="#1a8aa5"/>
<path d="M538.37,43.32L540.67,47.46L536.07,47.46Z" fill="#1a8aa5"/>
<path d="M558.24,42.82L560.54,46.96L555.94,46.96Z" fill="#1a8aa5"/>
<path d="M397.00,101.78 L399.04,101.72 L401.09,101.66 L403.13,101.59 L405.18,101.52 L407.22,101.44 L409.27,101.35 L411.31,101.26 L413.35,101.16 L415.40,101.05 L417.44,100.93 L419.49,100.81 L421.53,100.67 L423.58,100.52 L425.62,100.36 L427.66,100.19 L429.71,100.00 L431.75,99.80 L433.80,99.58 L435.84,99.35 L437.89,99.09 L439.93,98.82 L441.97,98.52 L444.02,98.21 L446.06,97.87 L448.11,97.50 L450.15,97.11 L452.20,96.69 L454.24,96.24 L456.28,95.75 L458.33,95.23 L460.37,94.68 L462.42,94.09 L464.46,93.46 L466.51,92.78 L468.55,92.07 L470.59,91.31 L472.64,90.50 L474.68,89.65 L476.73,88.75 L478.77,87.80 L480.82,86.80 L482.86,85.75 L484.91,84.64 L486.95,83.49 L488.99,82.28 L491.04,81.03 L493.08,79.72 L495.13,78.37 L497.17,76.98 L499.22,75.54 L501.26,74.07 L503.30,72.56 L505.35,71.01 L507.39,69.44 L509.44,67.85 L511.48,66.24 L513.53,64.62 L515.57,62.99 L517.61,61.35 L519.66,59.72 L521.70,58.10 L523.75,56.49 L525.79,54.91 L527.84,53.34 L529.88,51.81 L531.92,50.30 L533.97,48.84 L536.01,47.41 L538.06,46.02 L540.10,44.68 L542.15,43.39 L544.19,42.15 L546.23,40.95 L548.28,39.81 L550.32,38.72 L552.37,37.68 L554.41,36.69 L556.46,35.75 L558.50,34.86" stroke="#a50000" stroke-width="1.4" fill="none"/>
<path d="M399.29,86.50V103.00M396.69,86.50H401.89M396.69,103.00H401.89" stroke="#a50000" stroke-width="1.5" fill="none"/>
<path d="M419.16,96.50V107.20M416.56,96.50H421.76M416.56,107.20H421.76" stroke="#a50000" stroke-width="1.5" fill="none"/>
<path d="M439.03,97.50V105.60M436.43,97.50H441.63M436.43,105.60H441.63" stroke="#a50000" stroke-width="1.5" fill="none"/>
<path d="M458.90,95.00V102.40M456.30,95.00H461.50M456.30,102.40H461.50" stroke="#a50000" stroke-width="1.5" fill="none"/>
<path d="M478.76,76.60V91.60M476.16,76.60H481.36M476.16,91.60H481.36" stroke="#a50000" stroke-width="1.5" fill="none"/>
<path d="M498.63,67.50V75.30M496.03,67.50H501.23M496.03,75.30H501.23" stroke="#a50000" stroke-width="1.5" fill="none"/>
<path d="M518.50,56.50V61.50M515.90,56.50H521.10M515.90,61.50H521.10" stroke="#a50000" stroke-width="1.5" fill="none"/>
<path d="M538.37,36.60V59.60M535.77,36.60H540.97M535.77,59.60H540.97" stroke="#a50000" stroke-width="1.5" fill="none"/>
<path d="M558.24,20.00V43.30M555.64,20.00H560.84M555.64,43.30H560.84" stroke="#a50000" stroke-width="1.5" fill="none"/>
<rect x="396.99" y="92.00" width="4.6" height="4.6" fill="#a50000"/>
<rect x="416.86" y="100.10" width="4.6" height="4.6" fill="#a50000"/>
<rect x="436.73" y="98.90" width="4.6" height="4.6" fill="#a50000"/>
<rect x="456.60" y="96.30" width="4.6" height="4.6" fill="#a50000"/>
<rect x="476.46" y="82.70" width="4.6" height="4.6" fill="#a50000"/>
<rect x="496.33" y="69.00" width="4.6" height="4.6" fill="#a50000"/>
<rect x="516.20" y="56.70" width="4.6" height="4.6" fill="#a50000"/>
<rect x="536.07" y="46.00" width="4.6" height="4.6" fill="#a50000"/>
<rect x="555.94" y="29.30" width="4.6" height="4.6" fill="#a50000"/>
<path d="M581.00,39.50H593.50" stroke="#a50000" stroke-width="1.1"/><rect x="585.07" y="37.31" width="4.369999999999999" height="4.369999999999999" fill="#a50000"/><text transform="translate(600.00,43.20)" font-size="9.7" >NRG-1</text>
<path d="M581.00,53.00H593.50" stroke="#1a8aa5" stroke-width="1.1"/><path d="M587.25,50.54L589.53,54.64L584.97,54.64Z" fill="#1a8aa5"/><text transform="translate(600.00,56.10)" font-size="9.7" >JK07</text>
<path d="M581.00,71.70H593.50" stroke="#1010ff" stroke-width="1.1"/><path d="M587.25,74.16L589.53,70.06L584.97,70.06Z" fill="#1010ff"/><text transform="translate(600.00,70.20)" font-size="9.7" >GP120 mAB/NRG-1</text><text transform="translate(600.00,80.40)" font-size="9.7" >Fusion</text>
<path d="M581.00,88.40H593.50" stroke="#000" stroke-width="1.1"/><path d="M587.25,86.22L589.43,88.40L587.25,90.59L585.07,88.40Z" fill="#000"/><text transform="translate(600.00,92.20)" font-size="9.7" >GP120 mAB</text>
<path d="M581.00,107.70H593.50" stroke="#ff8c10" stroke-width="1.1"/><circle cx="587.25" cy="107.70" r="1.9949999999999999" fill="#ff8c10"/><text transform="translate(600.00,105.80)" font-size="9.7" >HER3 antagonist</text><text transform="translate(600.00,116.60)" font-size="9.7" >antibody</text>
</g>
<g>
<text transform="translate(21.60,214.60)" font-size="18.5" font-weight="bold" >C.</text>
<text transform="translate(43.00,290.00) scale(1.0,1) rotate(-44.8)" font-size="11.5" font-weight="bold">NRG-1</text>
<text transform="translate(74.00,290.00) scale(1.0,1) rotate(-44.8)" font-size="11.5" font-weight="bold">JK07</text>
<text transform="translate(104.20,289.60) scale(1.0,1) rotate(-44.8)" font-size="11.5" font-weight="bold">GP120 mAB/NRG-1 Fusion</text>
<text transform="translate(135.40,288.00) scale(1.0,1) rotate(-44.8)" font-size="11.5" font-weight="bold">HER3 antagonist antibody</text>
<text transform="translate(167.40,290.00) scale(1.0,1) rotate(-44.8)" font-size="11.5" font-weight="bold">GP120 mAb</text>
<text transform="translate(200.60,288.00) scale(1.0,1) rotate(-44.8)" font-size="11.5" font-weight="bold">Media</text>
<rect x="23.2" y="295.1" width="196.4" height="19.2" fill="#c5c5c5" filter="url(#bs)"/>
<rect x="23.2" y="332" width="196.4" height="19.3" fill="#c6c6c6" filter="url(#bs)"/>
<rect x="26.8" y="302.9" width="32.8" height="2.6" rx="1.3" fill="url(#gb0)" filter="url(#bl)"/>
<rect x="65" y="302.9" width="24.299999999999997" height="2.6" rx="1.3" fill="url(#gb1)" filter="url(#bl)"/>
<rect x="94.7" y="302.9" width="26.200000000000003" height="2.6" rx="1.3" fill="url(#gb2)" filter="url(#bl)"/>
<rect x="152.8" y="302.9" width="21.599999999999994" height="2.6" rx="1.3" fill="url(#gb3)" filter="url(#bl)"/>
<rect x="30.8" y="340.85" width="30.599999999999998" height="2.9" rx="1.45" fill="url(#gb4)" filter="url(#bl)"/>
<rect x="67.2" y="340.85" width="25.799999999999997" height="2.9" rx="1.45" fill="url(#gb5)" filter="url(#bl)"/>
<rect x="97" y="340.85" width="27.900000000000006" height="2.9" rx="1.45" fill="url(#gb6)" filter="url(#bl)"/>
<rect x="128.5" y="340.85" width="22.5" height="2.9" rx="1.45" fill="url(#gb7)" filter="url(#bl)"/>
<rect x="156" y="340.85" width="24.69999999999999" height="2.9" rx="1.45" fill="url(#gb8)" filter="url(#bl)"/>
<rect x="186.1" y="340.85" width="28.80000000000001" height="2.9" rx="1.45" fill="url(#gb9)" filter="url(#bl)"/>
<text transform="translate(224.20,309.40) scale(1.02,1)" font-size="11" font-weight="bold" >p-AKT</text>
<text transform="translate(224.20,346.00) scale(1.02,1)" font-size="11" font-weight="bold" >Total AKT</text>
</g>
<g>
<text transform="translate(371.40,218.60)" font-size="18.5" font-weight="bold" >D.</text>
<text transform="translate(417.20,290.00) scale(1.0,1) rotate(-44.8)" font-size="11.5" font-weight="bold">NRG-1</text>
<text transform="translate(452.40,290.20) scale(1.0,1) rotate(-44.8)" font-size="11.5" font-weight="bold">JK07</text>
<text transform="translate(489.20,290.60) scale(1.0,1) rotate(-44.8)" font-size="11.5" font-weight="bold">HER3 antagonist antibody</text>
<text transform="translate(525.40,288.00) scale(1.0,1) rotate(-44.8)" font-size="11.5" font-weight="bold">Media</text>
<text transform="translate(559.60,287.80) scale(1.0,1) rotate(-44.8)" font-size="11.5" font-weight="bold">GP120 mAb</text>
<rect x="396.3" y="302.5" width="176.7" height="14.4" fill="#e4e4e4" filter="url(#bs)"/>
<rect x="396.3" y="334.5" width="184.7" height="14.5" fill="#e4e4e4" filter="url(#bs)"/>
<rect x="399.6" y="309.7" width="31.599999999999966" height="2.2" rx="1.1" fill="url(#gb10)" filter="url(#bl)"/>
<rect x="436.8" y="310.29999999999995" width="30.399999999999977" height="2.2" rx="1.1" fill="url(#gb11)" filter="url(#bl)"/>
<rect x="472" y="310.5" width="32" height="2.2" rx="1.1" fill="url(#gb12)" filter="url(#bl)"/>
<rect x="509" y="310.5" width="30" height="2.2" rx="1.1" fill="url(#gb13)" filter="url(#bl)"/>
<rect x="544" y="310.5" width="29" height="2.2" rx="1.1" fill="url(#gb14)" filter="url(#bl)"/>
<rect x="400.8" y="339.2" width="33.19999999999999" height="3.4" rx="1.7" fill="url(#gb15)" filter="url(#bl)"/>
<rect x="438.5" y="339.6" width="30.399999999999977" height="3.4" rx="1.7" fill="url(#gb16)" filter="url(#bl)"/>
<rect x="473" y="340.2" width="31" height="3.4" rx="1.7" fill="url(#gb17)" filter="url(#bl)"/>
<rect x="509" y="340.90000000000003" width="30" height="3.4" rx="1.7" fill="url(#gb18)" filter="url(#bl)"/>
<rect x="544" y="341.40000000000003" width="29.899999999999977" height="3.4" rx="1.7" fill="url(#gb19)" filter="url(#bl)"/>
<text transform="translate(607.00,314.10)" font-size="11" font-weight="bold" >p-AKT</text>
<text transform="translate(607.00,345.80)" font-size="11" font-weight="bold" >Total AKT</text>
</g></svg></body></html>
